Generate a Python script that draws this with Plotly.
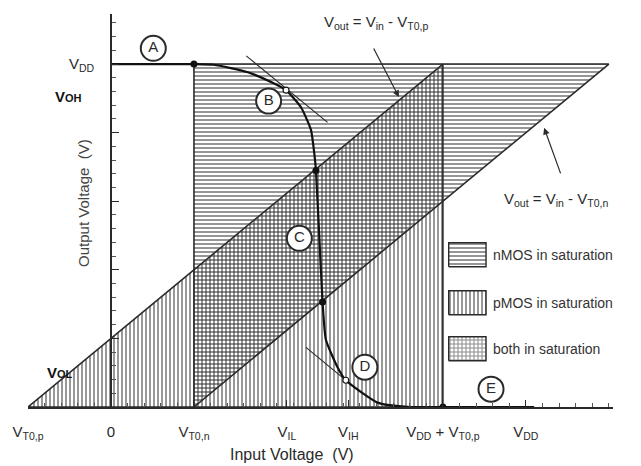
import plotly.graph_objects as go

# ---- circuit parameters (V) ----
VDD = 5.0
VT0_n = 1.0
VT0_p = -1.0
VIL = 2.12
VIH = 2.86

# ---- voltage transfer characteristic ----
vtc_vin = [0.0, 1.0, 1.24, 1.65, 1.96, 2.11, 2.29, 2.41, 2.45, 2.47, 2.51, 2.55,
           2.59, 2.73, 2.83, 3.22, 3.61, 4.0, 5.1]
vtc_vout = [5.0, 5.0, 4.99, 4.88, 4.72, 4.62, 4.37, 4.04, 3.70, 3.45, 2.49, 1.53,
            0.98, 0.58, 0.39, 0.06, 0.0, 0.0, 0.0]

# points marked on the curve
dot_vin = [1.0, 2.47, 2.55, 4.0]
dot_vout = [5.0, 3.45, 1.53, 0.0]
open_vin = [2.11, 2.83]
open_vout = [4.62, 0.39]

# tangent lines (slope -1) at VIL and VIH
tanB_vin = [1.63, 2.61]
tanB_vout = [5.12, 4.15]
tanD_vin = [2.35, 3.0]
tanD_vout = [0.87, 0.22]

x_tick_vals = [VT0_p, 0, VT0_n, VIL, VIH, VDD + VT0_p, VDD]
x_tick_text = ["V<sub>T0,p</sub>", "0", "V<sub>T0,n</sub>", "V<sub>IL</sub>",
               "V<sub>IH</sub>", "V<sub>DD</sub> + V<sub>T0,p</sub>", "V<sub>DD</sub>"]

region_labels = ["A", "B", "C", "D", "E"]
legend_labels = ["nMOS in saturation", "pMOS in saturation", "both in saturation"]

# ---- layout constants ----
X_MAX = 6.05
Y_MAX = 5.73
FONT = "Liberation Sans, Arial, sans-serif"
INK = "#2a2a2a"
label_x = [0.51, 1.90, 2.27, 3.06, 4.58]
label_y = [5.23, 4.46, 2.46, 0.58, 0.26]

fig = go.Figure()

pat_h = dict(size=4, solidity=0.5, fgcolor="#2e2e2e", bgcolor="rgba(0,0,0,0)")
pat_v = dict(size=4, solidity=0.45, fgcolor="#1a1a1a", bgcolor="rgba(0,0,0,0)")

# pMOS saturation region: Vout < Vin - VT0,p, Vin < VDD + VT0,p
fig.add_trace(go.Scatter(
    x=[VT0_p, VDD + VT0_p, VDD + VT0_p, VT0_p],
    y=[0, VDD, 0, 0],
    fill="toself", mode="lines", fillcolor="rgba(0,0,0,0)",
    fillpattern=dict(shape="|", **pat_v),
    line=dict(color=INK, width=1.6), showlegend=False, hoverinfo="skip"))

# nMOS saturation region: Vin > VT0,n, Vout > Vin - VT0,n
fig.add_trace(go.Scatter(
    x=[VT0_n, VT0_n, VDD + VT0_n, VT0_n],
    y=[0, VDD, VDD, 0],
    fill="toself", mode="lines", fillcolor="rgba(0,0,0,0)",
    fillpattern=dict(shape="-", **pat_h),
    line=dict(color=INK, width=1.6), showlegend=False, hoverinfo="skip"))

# tangents
for tx, ty in [(tanB_vin, tanB_vout), (tanD_vin, tanD_vout)]:
    fig.add_trace(go.Scatter(x=tx, y=ty, mode="lines",
                             line=dict(color=INK, width=1.1),
                             showlegend=False, hoverinfo="skip"))

# VTC
fig.add_trace(go.Scatter(x=vtc_vin, y=vtc_vout, mode="lines",
                         line=dict(color="#111", width=2.2, shape="spline", smoothing=0.5),
                         showlegend=False))
fig.add_trace(go.Scatter(x=dot_vin, y=dot_vout, mode="markers",
                         marker=dict(size=7, color="#111"), showlegend=False))
fig.add_trace(go.Scatter(x=open_vin, y=open_vout, mode="markers",
                         marker=dict(size=6, color="white", line=dict(color="#111", width=1.2)),
                         showlegend=False))

# circled region letters
fig.add_trace(go.Scatter(x=label_x, y=label_y, mode="markers+text",
                         text=region_labels, textposition="middle center",
                         textfont=dict(family=FONT, size=15, color=INK),
                         marker=dict(size=25, color="white", line=dict(color=INK, width=2)),
                         showlegend=False, cliponaxis=False))

# legend swatches
sw_x0, sw_x1 = 4.07, 4.52
row_y = [2.22, 1.52, 0.85]
sw_h = 0.175
shapes_pat = ["-", "|", "+"]
pats = [pat_h, pat_v, pat_v]
for yy, shp, pp, lab in zip(row_y, shapes_pat, pats, legend_labels):
    fig.add_trace(go.Scatter(
        x=[sw_x0, sw_x1, sw_x1, sw_x0, sw_x0],
        y=[yy - sw_h, yy - sw_h, yy + sw_h, yy + sw_h, yy - sw_h],
        fill="toself", mode="lines", fillcolor="rgba(0,0,0,0)",
        fillpattern=dict(shape=shp, **pp),
        line=dict(color=INK, width=1.4), showlegend=False, hoverinfo="skip"))
    fig.add_annotation(x=4.58, y=yy, text=lab, showarrow=False, xanchor="left",
                       font=dict(family=FONT, size=14, color="#333"))

# line equations with arrows
fig.add_annotation(x=3.19, y=5.61, showarrow=False,
                   text="V<sub>out</sub> = V<sub>in</sub> - V<sub>T0,p</sub>",
                   font=dict(family=FONT, size=15, color=INK))
fig.add_annotation(x=VDD + VT0_p - 0.53, y=4.52, text="", showarrow=True,
                   ax=-26, ay=-50, arrowhead=2, arrowsize=1.1, arrowwidth=1.2,
                   arrowcolor=INK)
fig.add_annotation(x=5.36, y=3.02, showarrow=False,
                   text="V<sub>out</sub> = V<sub>in</sub> - V<sub>T0,n</sub>",
                   font=dict(family=FONT, size=15, color=INK))
fig.add_annotation(x=5.22, y=5.22 - VT0_n - 0.15, text="", showarrow=True,
                   ax=17, ay=47, arrowhead=2, arrowsize=1.1, arrowwidth=1.2,
                   arrowcolor=INK)

# y-axis labels
fig.add_annotation(x=0, y=VDD, xanchor="right", xshift=-14, showarrow=False,
                   text="V<sub>DD</sub>", font=dict(family=FONT, size=15, color=INK))
fig.add_annotation(x=0, y=4.52, xanchor="right", xshift=-27, showarrow=False,
                   text="<b>V<span style='font-size:11px'>OH</span></b>",
                   font=dict(family=FONT, size=15, color="#111"))
fig.add_annotation(x=0, y=0.51, xanchor="right", xshift=-36, showarrow=False,
                   text="<b>V<span style='font-size:11px'>OL</span></b>",
                   font=dict(family=FONT, size=15, color="#111"))

# axis titles
fig.add_annotation(x=-0.33, y=2.97, textangle=-90, showarrow=False,
                   text="Output Voltage  (V)", font=dict(family=FONT, size=15, color="#444"))
fig.add_annotation(x=2.18, xref="x", y=-0.122, yref="paper", yanchor="middle",
                   showarrow=False,
                   text="Input Voltage  (V)", font=dict(family=FONT, size=16, color=INK))

fig.update_layout(
    width=641, height=466,
    margin=dict(l=28, r=641 - 28 - 585, t=14, b=59, autoexpand=False),
    paper_bgcolor="white", plot_bgcolor="white",
    showlegend=False,
    xaxis=dict(range=[VT0_p, X_MAX], showgrid=False, zeroline=False, automargin=False,
               showline=True, linecolor=INK, linewidth=1.5,
               tickmode="array", tickvals=x_tick_vals, ticktext=x_tick_text,
               ticks="inside", ticklen=7, tickcolor=INK, ticklabelstandoff=10,
               tickfont=dict(family=FONT, size=15, color=INK),
               minor=dict(dtick=0.2, tick0=0, ticks="inside", ticklen=4, tickcolor="#555")),
    yaxis=dict(range=[0, Y_MAX], anchor="free", position=1 / 7.05, automargin=False,
               showgrid=False, zeroline=False, showline=True,
               linecolor=INK, linewidth=1.5, showticklabels=False,
               dtick=1, ticks="inside", ticklen=7, tickcolor=INK,
               minor=dict(dtick=0.2, ticks="inside", ticklen=4, tickcolor="#555")),
)

fig.write_html("out.html", config={"displayModeBar": False},
               post_script="document.body.style.margin='0';document.body.style.overflow='hidden';")
